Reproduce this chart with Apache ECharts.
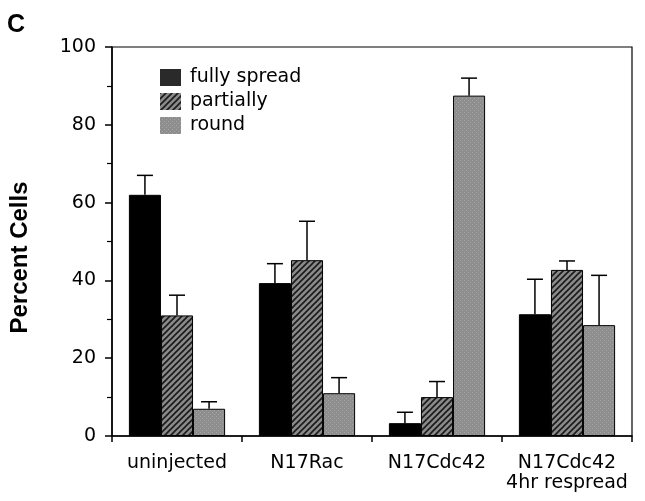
<!DOCTYPE html>
<html>
<head>
<meta charset="utf-8">
<script src="https://cdn.jsdelivr.net/npm/echarts@6/dist/echarts.min.js"></script>
<style>
  html, body { margin: 0; padding: 0; background: #fff; }
  #chart { width: 645px; height: 501px; }
</style>
</head>
<body>
<div id="chart"></div>
<script>
// 数据
const categories = ['uninjected', 'N17Rac', 'N17Cdc42', 'N17Cdc42\n4hr respread'];
const seriesNames = ['fully spread', 'partially', 'round'];
const fullySpread = [62, 39.3, 3.3, 31.3];
const fullySpreadErr = [5, 5, 2.8, 9];
const partially = [31, 45.2, 10, 42.7];
const partiallyErr = [5.2, 10, 4, 2.3];
const round = [7, 11, 87.5, 28.5];
const roundErr = [1.8, 4, 4.5, 12.8];

// 斜线填充
function hatchPattern() {
    const c = document.createElement('canvas');
    c.width = 6; c.height = 6;
    const ctx = c.getContext('2d');
    ctx.fillStyle = '#8a8a8a';
    ctx.fillRect(0, 0, 6, 6);
    ctx.strokeStyle = '#1a1a1a';
    ctx.lineWidth = 1.6;
    ctx.beginPath();
    ctx.moveTo(-1, 7); ctx.lineTo(7, -1);
    ctx.moveTo(-4, 4); ctx.lineTo(4, -4);
    ctx.moveTo(2, 10); ctx.lineTo(10, 2);
    ctx.stroke();
    return c;
}

// 点状灰色填充
function dotPattern() {
    const c = document.createElement('canvas');
    c.width = 4; c.height = 4;
    const ctx = c.getContext('2d');
    ctx.fillStyle = '#8e8e8e';
    ctx.fillRect(0, 0, 4, 4);
    ctx.fillStyle = '#a4a4a4';
    ctx.fillRect(0, 0, 1, 1);
    ctx.fillRect(2, 2, 1, 1);
    return c;
}

const barGapCat = 0.26;
const font = 'DejaVu Sans';
const hatch = { image: hatchPattern(), repeat: 'repeat' };
const dots = { image: dotPattern(), repeat: 'repeat' };

function barSeries(name, values, color) {
    return {
        name: name,
        type: 'bar',
        data: values,
        barGap: '0%',
        barCategoryGap: (barGapCat * 100) + '%',
        itemStyle: { color: color, borderColor: '#000', borderWidth: 1 },
        z: 2
    };
}

function errorSeries(idx, values, errs) {
    return {
        type: 'custom',
        name: 'err' + idx,
        z: 3,
        renderItem: function(params, api) {
            const xi = api.value(0);
            const base = api.coord([xi, api.value(1)]);
            const top = api.coord([xi, api.value(1) + api.value(2)]);
            const catW = api.size([1, 0])[0];
            const barW = catW * (1 - barGapCat) / 3;
            const x = base[0] + (idx - 1) * barW;
            const half = 8;
            const st = { stroke: '#000', lineWidth: 1.5 };
            return {
                type: 'group',
                children: [
                    { type: 'line', shape: { x1: x, y1: base[1], x2: x, y2: top[1] }, style: st },
                    { type: 'line', shape: { x1: x - half, y1: top[1], x2: x + half, y2: top[1] }, style: st }
                ]
            };
        },
        data: values.map((v, i) => [i, v, errs[i]])
    };
}

const chart = echarts.init(document.getElementById('chart'));
const option = {
    backgroundColor: '#fff',
    animation: false,
    title: {
        text: 'C',
        left: 2,
        top: 8,
        textStyle: { fontFamily: 'Liberation Sans', fontSize: 25, fontWeight: 'bold', color: '#000' }
    },
    legend: {
        data: [
            { name: seriesNames[0], itemStyle: { color: '#2a2a2a' } },
            { name: seriesNames[1], itemStyle: { color: hatch } },
            { name: seriesNames[2], itemStyle: { color: dots } }
        ],
        orient: 'vertical',
        left: 155,
        top: 63,
        itemWidth: 21,
        itemHeight: 17,
        itemGap: 5,
        icon: 'rect',
        itemStyle: { borderWidth: 0 },
        textStyle: { fontFamily: font, fontSize: 19, color: '#000', padding: [0, 0, 0, 4] }
    },
    grid: {
        left: 112,
        right: 13,
        top: 47,
        bottom: 65,
        show: true,
        borderColor: '#000',
        borderWidth: 1.2,
        backgroundColor: 'transparent'
    },
    xAxis: {
        type: 'category',
        data: categories,
        axisLine: { lineStyle: { color: '#000', width: 1.5 } },
        axisTick: { show: true, interval: 0, length: 6, lineStyle: { color: '#000', width: 1.5 } },
        axisLabel: { interval: 0, fontFamily: font, fontSize: 19, color: '#000', margin: 17, lineHeight: 20 }
    },
    yAxis: {
        type: 'value',
        min: 0,
        max: 100,
        interval: 20,
        name: 'Percent Cells',
        nameLocation: 'middle',
        nameGap: 80,
        nameTextStyle: {
            fontFamily: 'Liberation Sans', fontSize: 24, fontWeight: 'bold', color: '#000',
            padding: [0, 32, 0, 0]
        },
        axisLine: { show: true, lineStyle: { color: '#000', width: 1.5 } },
        axisTick: { show: true, length: 7, lineStyle: { color: '#000', width: 1.5 } },
        minorTick: { show: true, splitNumber: 2, length: 5, lineStyle: { color: '#000', width: 1.2 } },
        splitLine: { show: false },
        axisLabel: { fontFamily: font, fontSize: 19, color: '#000', margin: 16 }
    },
    series: [
        barSeries(seriesNames[0], fullySpread, '#000'),
        barSeries(seriesNames[1], partially, hatch),
        barSeries(seriesNames[2], round, dots),
        errorSeries(0, fullySpread, fullySpreadErr),
        errorSeries(1, partially, partiallyErr),
        errorSeries(2, round, roundErr)
    ]
};
chart.setOption(option);
</script>
</body>
</html>
